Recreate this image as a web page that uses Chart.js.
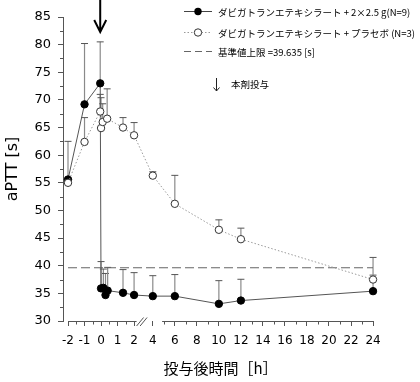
<!DOCTYPE html>
<html>
<head>
<meta charset="utf-8">
<script src="https://cdn.jsdelivr.net/npm/chart.js@4"></script>
<style>
  html, body { margin: 0; padding: 0; background: #fff; }
</style>
</head>
<body>
<canvas id="canvas" width="420" height="382"></canvas>
<script>
// time after dosing [h], mean aPTT [s] and SD (upper bar only)
var hoursDrug = [-2, -1, -0.05, 0, 0.14, 0.27, 0.4, 1.33, 2, 4, 6, 10, 12, 24];
var apttDrug  = [55.6, 69.2, 73.0, 35.9, 36.0, 34.7, 35.5, 35.1, 34.7, 34.5, 34.5, 33.1, 33.7, 35.4];
var sdDrug    = [6.9, 11.0, 7.5, 4.85, 3.4, 3.9, 4.2, 4.2, 4.05, 3.7, 3.9, 4.2, 3.85, 2.9];

var hoursPlacebo = [-2, -1, -0.05, 0, 0.1, 0.37, 1.33, 2, 4, 6, 10, 12, 24];
var apttPlacebo  = [55.0, 62.4, 67.9, 64.9, 66.0, 66.6, 65.0, 63.6, 56.3, 51.2, 46.5, 44.8, 37.5];
var sdPlacebo    = [0.6, 4.4, 3.1, 5.5, 3.3, 5.4, 1.8, 2.3, 0.7, 5.15, 1.8, 2.0, 4.0];

var upperLimit = 39.635;
var doseHour = -0.05;

var xTickHours = [-2, -1, 0, 1, 2, 4, 6, 8, 10, 12, 14, 16, 18, 20, 22, 24];
var xMinorHours = [-1.5, -0.5, 0.5, 1.5, 5, 7, 9, 11, 13, 15, 17, 19, 21, 23];

var legendDrug = 'ダビガトランエテキシラート + 2×2.5 g(N=9)';
var legendPlacebo = 'ダビガトランエテキシラート + プラセボ (N=3)';
var legendLimit = '基準値上限 =39.635 [s]';
var legendDose = '本剤投与';

// axis is broken between 2h and 4h, after 4h one hour is 2/3 as wide
function brk(h) {
  var gap = 18.7 / 16.5;
  if (h <= 2) return h;
  if (h >= 4) return 2 + gap + (h - 4) * 11 / 16.5;
  return 2 + (h - 2) / 2 * gap;
}

function pts(hours, vals) {
  return hours.map(function (h, i) { return {x: brk(h), y: vals[i]}; });
}

var errorBars = {
  id: 'errorBars',
  beforeDatasetsDraw: function (chart) {
    var xs = chart.scales.x, ys = chart.scales.y, ctx = chart.ctx;
    ctx.save();
    [[hoursDrug, apttDrug, sdDrug], [hoursPlacebo, apttPlacebo, sdPlacebo]].forEach(function (s) {
      s[0].forEach(function (h, i) {
        var x = xs.getPixelForValue(brk(h));
        var y0 = ys.getPixelForValue(s[1][i]);
        var y1 = ys.getPixelForValue(s[1][i] + s[2][i]);
        ctx.strokeStyle = '#8a8a8a';
        ctx.lineWidth = 1.2;
        ctx.beginPath(); ctx.moveTo(x, y0); ctx.lineTo(x, y1); ctx.stroke();
        ctx.strokeStyle = '#555';
        ctx.lineWidth = 1;
        ctx.beginPath(); ctx.moveTo(x - 3.5, y1); ctx.lineTo(x + 3.5, y1); ctx.stroke();
      });
    });
    ctx.restore();
  }
};

var extras = {
  id: 'extras',
  afterDraw: function (chart) {
    var xs = chart.scales.x, ys = chart.scales.y, ctx = chart.ctx;
    var area = chart.chartArea;
    ctx.save();
    ctx.strokeStyle = '#555';
    ctx.lineWidth = 1;
    // minor ticks
    for (var v = 32.5; v < 85; v += 5) {
      var py = Math.round(ys.getPixelForValue(v)) + 0.5;
      ctx.beginPath(); ctx.moveTo(area.left - 3, py); ctx.lineTo(area.left, py); ctx.stroke();
    }
    xMinorHours.forEach(function (h) {
      var px = Math.round(xs.getPixelForValue(brk(h))) + 0.5;
      ctx.beginPath(); ctx.moveTo(px, area.bottom); ctx.lineTo(px, area.bottom + 3.5); ctx.stroke();
    });
    // x axis line with break
    var yb = Math.round(area.bottom) + 0.5;
    var p2 = xs.getPixelForValue(2), p4 = xs.getPixelForValue(4);
    ctx.beginPath();
    ctx.moveTo(xs.getPixelForValue(-2), yb); ctx.lineTo(p2 + 2.5, yb);
    ctx.moveTo(p4 - 5, yb); ctx.lineTo(xs.getPixelForValue(brk(24)), yb);
    ctx.stroke();
    ctx.beginPath();
    ctx.moveTo(p2 + 2.5, yb + 4.5); ctx.lineTo(p2 + 9.5, yb - 4);
    ctx.moveTo(p2 + 6, yb + 4.5); ctx.lineTo(p2 + 13, yb - 4);
    ctx.stroke();

    // dosing arrow
    var ax = xs.getPixelForValue(brk(doseHour));
    ctx.strokeStyle = '#000';
    ctx.lineWidth = 2;
    ctx.beginPath();
    ctx.moveTo(ax, 0); ctx.lineTo(ax, 32);
    ctx.moveTo(ax - 6, 20); ctx.lineTo(ax, 32); ctx.lineTo(ax + 6, 20);
    ctx.stroke();

    // legend
    ctx.font = '9.5px "Noto Sans CJK JP"';
    ctx.fillStyle = '#000';
    ctx.textBaseline = 'middle';
    ctx.lineWidth = 1;
    ctx.strokeStyle = '#444';
    ctx.beginPath(); ctx.moveTo(184, 11.5); ctx.lineTo(212, 11.5); ctx.stroke();
    ctx.beginPath(); ctx.arc(198, 11.5, 3.7, 0, Math.PI * 2); ctx.fill();
    ctx.fillText(legendDrug, 218, 12);

    ctx.strokeStyle = '#999';
    ctx.setLineDash([1.5, 2]);
    ctx.beginPath(); ctx.moveTo(184, 32.5); ctx.lineTo(212, 32.5); ctx.stroke();
    ctx.setLineDash([]);
    ctx.fillStyle = '#fff';
    ctx.strokeStyle = '#333';
    ctx.beginPath(); ctx.arc(198, 32.5, 3.7, 0, Math.PI * 2); ctx.fill(); ctx.stroke();
    ctx.fillStyle = '#000';
    ctx.fillText(legendPlacebo, 218, 33);

    ctx.strokeStyle = '#666';
    ctx.setLineDash([7, 4]);
    ctx.beginPath(); ctx.moveTo(184, 51.5); ctx.lineTo(212, 51.5); ctx.stroke();
    ctx.setLineDash([]);
    ctx.fillText(legendLimit, 218, 52);

    ctx.strokeStyle = '#222';
    ctx.beginPath();
    ctx.moveTo(216.5, 78); ctx.lineTo(216.5, 91);
    ctx.moveTo(213.5, 87.5); ctx.lineTo(216.5, 91); ctx.lineTo(219.5, 87.5);
    ctx.stroke();
    ctx.fillText(legendDose, 231, 84);
    ctx.restore();
  }
};

var data = {
  datasets: [
    {
      label: 'placebo',
      data: pts(hoursPlacebo, apttPlacebo),
      borderColor: '#9a9a9a',
      borderWidth: 1,
      borderDash: [1.5, 2],
      pointRadius: 3.7,
      pointBackgroundColor: '#fff',
      pointBorderColor: '#333',
      pointBorderWidth: 1
    },
    {
      label: 'drug',
      data: pts(hoursDrug, apttDrug),
      borderColor: '#555',
      borderWidth: 1,
      pointRadius: 3.7,
      pointBackgroundColor: '#000',
      pointBorderColor: '#000'
    },
    {
      label: 'limit',
      data: [{x: brk(-2), y: upperLimit}, {x: brk(24), y: upperLimit}],
      borderColor: '#666',
      borderWidth: 1.2,
      borderDash: [9, 4],
      pointRadius: 0
    }
  ]
};

var config = {
  type: 'line',
  data: data,
  options: {
    responsive: false,
    animation: false,
    devicePixelRatio: 1,
    layout: { padding: { top: 17, right: 42, left: 0, bottom: 0 } },
    plugins: { legend: { display: false }, tooltip: { enabled: false } },
    scales: {
      x: {
        type: 'linear',
        min: -2.303,
        max: brk(24) + 0.3,
        afterFit: function (s) { s.height = 61; },
        afterBuildTicks: function (s) {
          s.ticks = xTickHours.map(function (h) { return {value: brk(h)}; });
        },
        ticks: {
          autoSkip: false,
          maxRotation: 0,
          padding: 8,
          color: '#000',
          font: { family: 'DejaVu Sans', size: 12 },
          callback: function (v, i) { return xTickHours[i]; }
        },
        grid: { drawOnChartArea: false, tickLength: 5, color: '#555' },
        border: { display: false },
        title: {
          display: true,
          text: '投与後時間［h］',
          color: '#000',
          font: { family: '"Noto Sans CJK JP"', size: 15 },
          padding: { top: 0, bottom: 5 }
        }
      },
      y: {
        min: 30,
        max: 85,
        afterFit: function (s) { s.width = 63; },
        ticks: {
          stepSize: 5,
          padding: 7,
          color: '#000',
          font: { family: 'DejaVu Sans', size: 13 }
        },
        grid: { drawOnChartArea: false, tickLength: 5, color: '#555' },
        border: { display: true, color: '#555' },
        title: {
          display: true,
          text: 'aPTT [s]',
          color: '#000',
          font: { family: 'DejaVu Sans', size: 16 },
          padding: { top: 3, bottom: 0 }
        }
      }
    }
  },
  plugins: [errorBars, extras]
};

var canvas = document.getElementById('canvas');
var chart = new Chart(canvas, config);
</script>
</body>
</html>
